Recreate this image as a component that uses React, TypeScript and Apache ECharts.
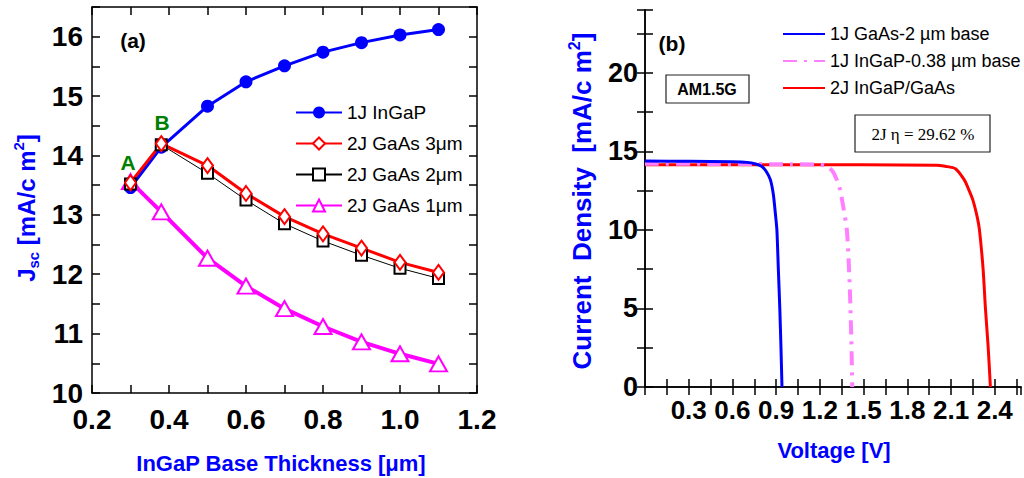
import React, { useEffect, useRef } from "react";
import * as echarts from "echarts";

const FONT = '"Liberation Sans", Arial, Helvetica, sans-serif';
const SERIF = '"Liberation Serif", "Times New Roman", serif';

// Panel (a): Jsc vs InGaP base thickness
const thickness = [0.3, 0.38, 0.5, 0.6, 0.7, 0.8, 0.9, 1.0, 1.1];
const jInGaP = [13.46, 14.14, 14.83, 15.24, 15.51, 15.74, 15.9, 16.03, 16.12];
const jGaAs3 = [13.54, 14.2, 13.83, 13.36, 12.97, 12.68, 12.44, 12.2, 12.03];
const jGaAs2 = [13.52, 14.18, 13.7, 13.25, 12.85, 12.56, 12.32, 12.1, 11.93];
const jGaAs1 = [13.56, 13.05, 12.27, 11.8, 11.42, 11.12, 10.86, 10.66, 10.49];

// Panel (b): J-V curves
const vGaAs = [0, 0.3, 0.6, 0.7, 0.76, 0.8, 0.83, 0.86, 0.88, 0.895, 0.905, 0.915, 0.925, 0.933, 0.94];
const jvGaAs = [14.38, 14.37, 14.34, 14.3, 14.2, 14.05, 13.75, 13.2, 12.3, 11, 10, 7.5, 5, 2.5, 0];
const vInGaP = [0, 0.5, 1.0, 1.2, 1.25, 1.29, 1.32, 1.34, 1.36, 1.385, 1.4, 1.41, 1.417, 1.422];
const jvInGaP = [14.22, 14.2, 14.18, 14.15, 14.05, 13.7, 13.1, 12.5, 11.5, 10, 7.5, 5, 2.5, 0];
const vTandem = [0, 1.0, 2.0, 2.06, 2.13, 2.19, 2.22, 2.25, 2.28, 2.295, 2.32, 2.336, 2.355, 2.37];
const jvTandem = [14.15, 14.15, 14.12, 14.05, 13.9, 13.2, 12.6, 11.9, 10.8, 10, 7.5, 5, 2.5, 0];

const legendA = ["1J InGaP", "2J GaAs 3\u03bcm", "2J GaAs 2\u03bcm", "2J GaAs 1\u03bcm"];
const legendB = ["1J GaAs-2 \u00b5m base", "1J InGaP-0.38 \u00b5m base", "2J InGaP/GaAs"];

const zip = (xs: number[], ys: number[]) => xs.map((x, i) => [x, ys[i]]);

const axisLineStyle = { lineStyle: { color: "#000", width: 1.5 } };
const tickStyle = { inside: true, length: 8, lineStyle: { color: "#000", width: 1.5 } };
const labelBase = { color: "#000", fontFamily: FONT, fontWeight: "bold" as const };

export default function App() {
  const ref = useRef<HTMLDivElement>(null);
  useEffect(() => {
    document.body.style.margin = "0";
    const chart = echarts.init(ref.current!, undefined, { renderer: "svg" });
    const option: any = {
      animation: false,
      backgroundColor: "#fff",
      grid: [
        { left: 92, top: 7, width: 385, height: 386 },
        { left: 645, top: 10, width: 376, height: 377 },
      ],
      xAxis: [
        {
          type: "value", gridIndex: 0, min: 0.2, max: 1.2, interval: 0.1, position: "bottom",
          axisLine: axisLineStyle, axisTick: tickStyle, splitLine: { show: false },
          axisLabel: {
            ...labelBase, fontSize: 28, margin: 12,
            formatter: (v: number) => (Math.round(v * 10) % 2 === 0 ? v.toFixed(1) : ""),
          },
        },
        {
          type: "value", gridIndex: 0, min: 0.2, max: 1.2, interval: 0.1, position: "top",
          axisLine: axisLineStyle, axisTick: tickStyle, splitLine: { show: false }, axisLabel: { show: false },
        },
        {
          type: "value", gridIndex: 1, min: 0, max: 2.58, interval: 0.15, position: "bottom",
          axisLine: axisLineStyle, axisTick: tickStyle, splitLine: { show: false },
          axisLabel: {
            ...labelBase, fontSize: 26, margin: 10, showMinLabel: false, showMaxLabel: false,
            formatter: (v: number) => {
              const k = Math.round(v / 0.15);
              return k > 0 && k % 2 === 0 && Math.abs(v / 0.15 - k) < 1e-6 ? v.toFixed(1) : "";
            },
          },
        },
        {
          type: "value", gridIndex: 1, min: 0, max: 2.58, interval: 0.15, position: "top",
          axisLine: axisLineStyle, axisTick: tickStyle, splitLine: { show: false }, axisLabel: { show: false },
        },
      ],
      yAxis: [
        {
          type: "value", gridIndex: 0, min: 10, max: 16.5, interval: 0.5, position: "left",
          axisLine: axisLineStyle, axisTick: tickStyle, splitLine: { show: false },
          axisLabel: {
            ...labelBase, fontSize: 28, margin: 9,
            formatter: (v: number) => (Math.abs(v - Math.round(v)) < 1e-6 ? String(Math.round(v)) : ""),
          },
        },
        {
          type: "value", gridIndex: 0, min: 10, max: 16.5, interval: 0.5, position: "right",
          axisLine: axisLineStyle, axisTick: tickStyle, splitLine: { show: false }, axisLabel: { show: false },
        },
        {
          type: "value", gridIndex: 1, min: 0, max: 24, interval: 2.5, position: "left",
          axisLine: axisLineStyle, axisTick: tickStyle, splitLine: { show: false },
          axisLabel: {
            ...labelBase, fontSize: 27, margin: 7,
            formatter: (v: number) => (Math.abs(v / 5 - Math.round(v / 5)) < 1e-6 ? String(Math.round(v)) : ""),
          },
        },
        {
          type: "value", gridIndex: 1, min: 0, max: 24, interval: 2.5, position: "right",
          axisLine: axisLineStyle, axisTick: tickStyle, splitLine: { show: false }, axisLabel: { show: false },
        },
      ],
      legend: [
        {
          orient: "vertical", left: 295, top: 103, padding: 0, itemWidth: 46, itemHeight: 15, itemGap: 12,
          textStyle: { fontSize: 19, fontFamily: FONT, color: "#000" },
          data: legendA,
        },
        {
          orient: "vertical", left: 782, top: 25, padding: 0, itemWidth: 42, itemHeight: 12, itemGap: 9,
          textStyle: { fontSize: 18, fontFamily: FONT, color: "#000" },
          itemStyle: { opacity: 0 },
          data: legendB,
        },
      ],
      series: [
        {
          name: legendA[0], type: "line", xAxisIndex: 0, yAxisIndex: 0,
          data: zip(thickness, jInGaP), symbol: "circle", symbolSize: 13,
          itemStyle: { color: "#0000ff" }, lineStyle: { color: "#0000ff", width: 3 },
        },
        {
          name: legendA[3], type: "line", xAxisIndex: 0, yAxisIndex: 0,
          data: zip(thickness, jGaAs1), symbol: "emptyTriangle", symbolSize: [17, 15],
          itemStyle: { color: "#ff00ff", borderWidth: 1.5 }, lineStyle: { color: "#ff00ff", width: 4 },
        },
        {
          name: legendA[2], type: "line", xAxisIndex: 0, yAxisIndex: 0,
          data: zip(thickness, jGaAs2), symbol: "emptyRect", symbolSize: 11,
          itemStyle: { color: "#000", borderWidth: 1.5 }, lineStyle: { color: "#000", width: 1 },
        },
        {
          name: legendA[1], type: "line", xAxisIndex: 0, yAxisIndex: 0,
          data: zip(thickness, jGaAs3), symbol: "emptyDiamond", symbolSize: [11, 15],
          itemStyle: { color: "#ff0000", borderWidth: 1.5 }, lineStyle: { color: "#ff0000", width: 3 },
        },
        {
          name: legendB[2], type: "line", xAxisIndex: 2, yAxisIndex: 2, showSymbol: false, symbol: "none",
          data: zip(vTandem, jvTandem), smooth: 0.25,
          itemStyle: { color: "#ff0000" }, lineStyle: { color: "#ff0000", width: 3 },
        },
        {
          name: legendB[1], type: "line", xAxisIndex: 2, yAxisIndex: 2, showSymbol: false, symbol: "none",
          data: zip(vInGaP, jvInGaP), smooth: 0.25,
          itemStyle: { color: "#ff80ff" }, lineStyle: { color: "#ff80ff", width: 4, type: [14, 7, 3, 7] },
        },
        {
          name: legendB[0], type: "line", xAxisIndex: 2, yAxisIndex: 2, showSymbol: false, symbol: "none",
          data: zip(vGaAs, jvGaAs), smooth: 0.25,
          itemStyle: { color: "#0000ff" }, lineStyle: { color: "#0000ff", width: 3 },
        },
      ],
      graphic: [
        { type: "text", x: 133, y: 40, style: { text: "(a)", fill: "#000", font: `bold 21px ${FONT}`, align: "center", verticalAlign: "middle" } },
        { type: "text", x: 672, y: 43, style: { text: "(b)", fill: "#000", font: `bold 21px ${FONT}`, align: "center", verticalAlign: "middle" } },
        { type: "text", x: 128, y: 162, style: { text: "A", fill: "#008000", font: `bold 21px ${FONT}`, align: "center", verticalAlign: "middle" } },
        { type: "text", x: 162, y: 122, style: { text: "B", fill: "#008000", font: `bold 21px ${FONT}`, align: "center", verticalAlign: "middle" } },
        { type: "rect", shape: { x: 666, y: 75, width: 83, height: 28 }, style: { fill: "#fff", stroke: "#222", lineWidth: 1.2 } },
        { type: "text", x: 707, y: 89, style: { text: "AM1.5G", fill: "#000", font: `bold 16px ${FONT}`, align: "center", verticalAlign: "middle" } },
        { type: "rect", shape: { x: 855, y: 115, width: 135, height: 37 }, style: { fill: "#fff", stroke: "#222", lineWidth: 1.2 } },
        { type: "text", x: 923, y: 134, style: { text: "2J \u03b7 = 29.62 %", fill: "#000", font: `17px ${SERIF}`, align: "center", verticalAlign: "middle" } },
        {
          type: "text", x: 281, y: 463,
          style: { text: "InGaP Base Thickness [\u03bcm]", fill: "#0000ff", font: `bold 22px ${FONT}`, align: "center", verticalAlign: "middle" },
        },
        {
          type: "text", x: 834, y: 450,
          style: { text: "Voltage [V]", fill: "#0000ff", font: `bold 22px ${FONT}`, align: "center", verticalAlign: "middle" },
        },
        {
          type: "text", x: 26, y: 208, rotation: Math.PI / 2,
          style: {
            text: "{a|J}{b|sc}{a| [mA/c m}{c|2}{a|]}",
            fill: "#0000ff", align: "center", verticalAlign: "middle",
            rich: {
              a: { fontSize: 24, fontWeight: "bold", fontFamily: FONT, fill: "#0000ff", lineHeight: 30, verticalAlign: "middle" },
              b: { fontSize: 15, fontWeight: "bold", fontFamily: FONT, fill: "#0000ff", lineHeight: 30, verticalAlign: "bottom" },
              c: { fontSize: 15, fontWeight: "bold", fontFamily: FONT, fill: "#0000ff", lineHeight: 30, verticalAlign: "top" },
            },
          },
        },
        {
          type: "text", x: 582, y: 201, rotation: Math.PI / 2,
          style: {
            text: "{a|Current  Density  [mA/c m}{c|2}{a|]}",
            fill: "#0000ff", align: "center", verticalAlign: "middle",
            rich: {
              a: { fontSize: 26, fontWeight: "bold", fontFamily: FONT, fill: "#0000ff", lineHeight: 32, verticalAlign: "middle" },
              c: { fontSize: 16, fontWeight: "bold", fontFamily: FONT, fill: "#0000ff", lineHeight: 32, verticalAlign: "top" },
            },
          },
        },
      ],
    };
    chart.setOption(option);
    return () => chart.dispose();
  }, []);
  return <div ref={ref} style={{ width: 1024, height: 478, position: "absolute", left: 0, top: 0 }} />;
}
